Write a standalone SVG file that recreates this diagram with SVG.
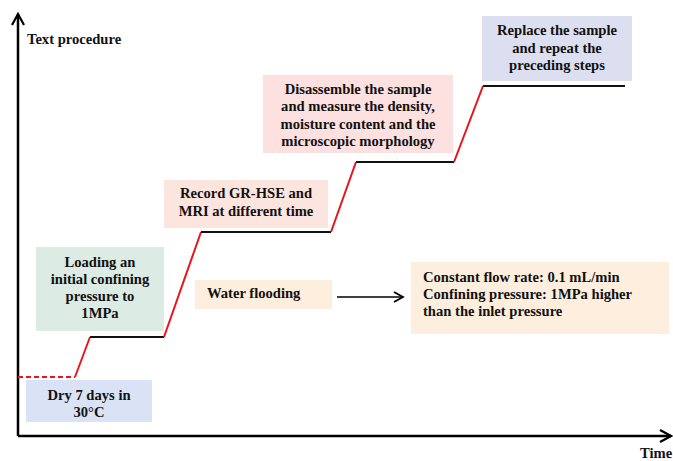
<svg xmlns="http://www.w3.org/2000/svg" width="673" height="461" viewBox="0 0 673 461">
<style>
text{font-family:"Liberation Serif","Times New Roman",serif;font-weight:bold;font-size:14.6px;fill:#111}
.c{text-anchor:middle}
.step{stroke:#111;stroke-width:2;fill:none}
.rise{stroke:#e8141c;stroke-width:2;fill:none}
.ax{stroke:#000;stroke-width:2.5;fill:none}
</style>
<defs>
<marker id="chev" viewBox="0 0 12 12" refX="10" refY="6" markerWidth="12" markerHeight="12" markerUnits="userSpaceOnUse" orient="auto">
<path d="M1,1 L10,6 L1,11" fill="none" stroke="#000" stroke-width="1.8"/>
</marker>
<marker id="axh" viewBox="0 0 14 14" refX="12" refY="7" markerWidth="14" markerHeight="14" markerUnits="userSpaceOnUse" orient="auto">
<path d="M1,1 L12,7 L1,13" fill="none" stroke="#000" stroke-width="2.2"/>
</marker>
</defs>
<g id="axes">
<path class="ax" d="M18,436 L18,14" marker-end="url(#axh)"/>
<path class="ax" d="M18,436 L671,436" marker-end="url(#axh)"/>
<text x="27" y="44">Text procedure</text>
<text x="640" y="458">Time</text>
</g>
<g id="connectors">
<path d="M18,377 L75,377" stroke="#e8141c" stroke-width="1.8" stroke-dasharray="5,3" fill="none"/>
<path class="rise" d="M75,377 L90,337"/>
<path class="step" d="M90,337 L164,337"/>
<path class="rise" d="M164,337 L201,232"/>
<path class="step" d="M201,232 L331,232"/>
<path class="rise" d="M331,232 L356,162"/>
<path class="step" d="M356,162 L454,162"/>
<path class="rise" d="M454,162 L483,86"/>
<path class="step" d="M483,86 L625,86"/>
<path d="M337,297 L403,297" stroke="#000" stroke-width="1.5" fill="none" marker-end="url(#chev)"/>
</g>
<g id="dry">
<rect x="26" y="380" width="126" height="42" fill="#dae3f5"/>
<text class="c" x="89" y="400">Dry 7 days in</text>
<text class="c" x="89" y="417">30°C</text>
</g>
<g id="loading">
<rect x="36" y="247" width="128" height="84" fill="#dcebe3"/>
<text class="c" x="100" y="267">Loading an</text>
<text class="c" x="100" y="284">initial confining</text>
<text class="c" x="100" y="301">pressure to</text>
<text class="c" x="100" y="318">1MPa</text>
</g>
<g id="water">
<rect x="195" y="280" width="137" height="29" fill="#fdeedd"/>
<text x="207" y="298">Water flooding</text>
</g>
<g id="conditions">
<rect x="411" y="262" width="258" height="72" fill="#fdeedd"/>
<text x="423" y="282">Constant flow rate: 0.1 mL/min</text>
<text x="423" y="299">Confining pressure: 1MPa higher</text>
<text x="423" y="316">than the inlet pressure</text>
</g>
<g id="record">
<rect x="164" y="180" width="164" height="48" fill="#fce4df"/>
<text class="c" x="246" y="198">Record GR-HSE and</text>
<text class="c" x="246" y="216">MRI at different time</text>
</g>
<g id="disassemble">
<rect x="263" y="75" width="190" height="78" fill="#fde0e0"/>
<text class="c" x="358" y="94">Disassemble the sample</text>
<text class="c" x="358" y="111">and measure the density,</text>
<text class="c" x="358" y="129">moisture content and the</text>
<text class="c" x="358" y="146">microscopic morphology</text>
</g>
<g id="replace">
<rect x="482" y="16" width="150" height="65" fill="#dcdff0"/>
<text class="c" x="557" y="35">Replace the sample</text>
<text class="c" x="557" y="53">and repeat the</text>
<text class="c" x="557" y="70">preceding steps</text>
</g>
</svg>
